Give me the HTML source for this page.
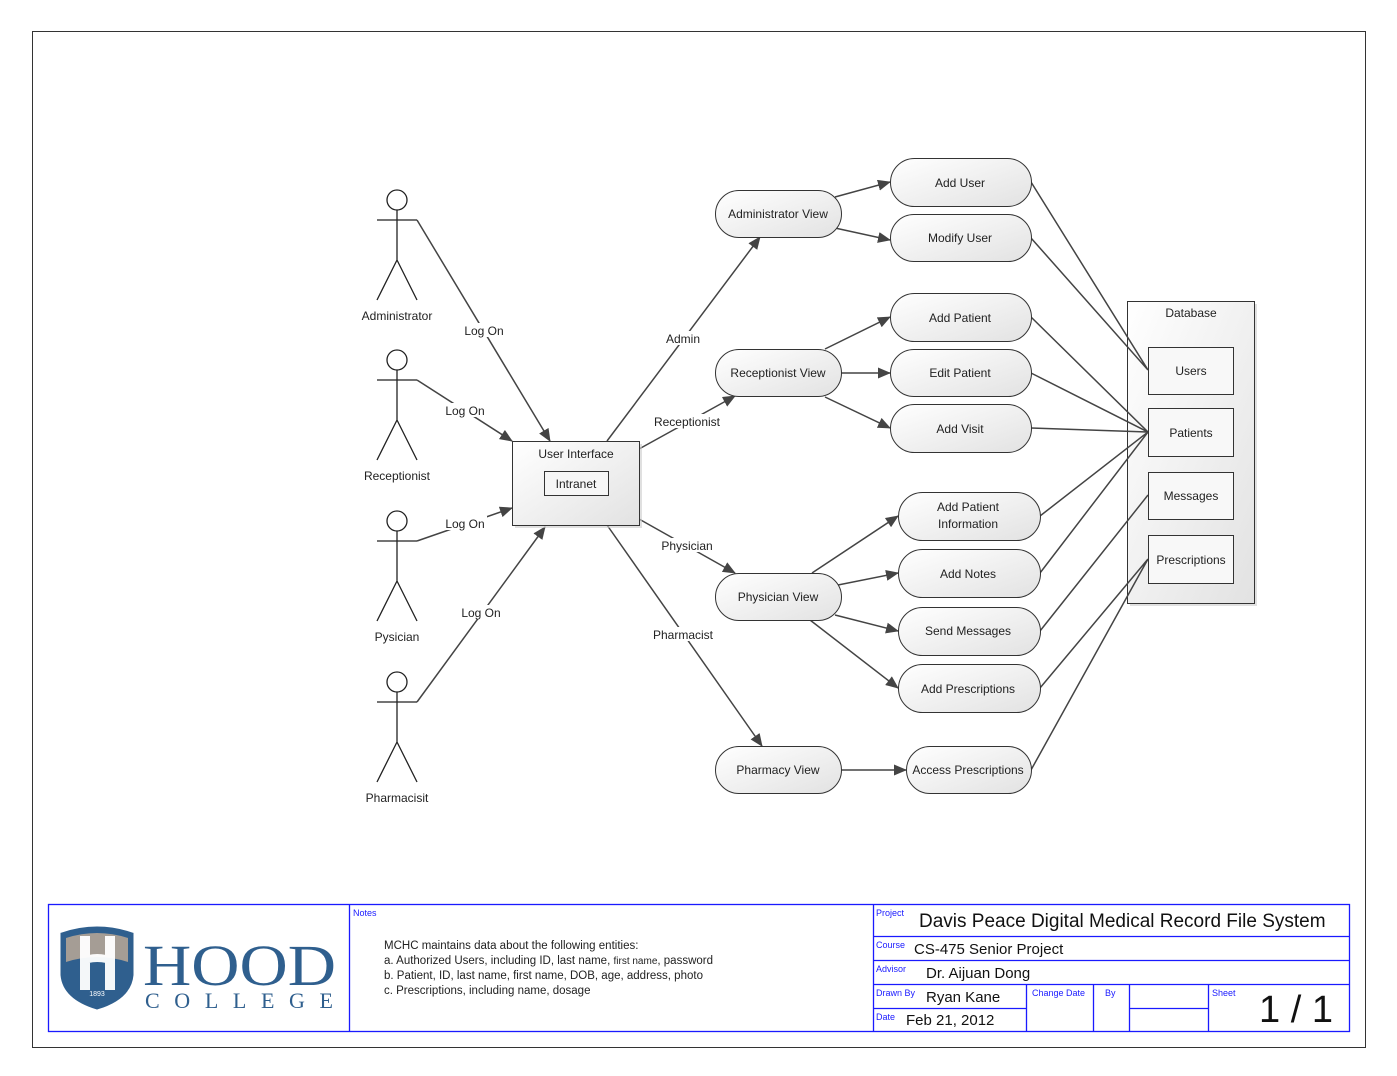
<!DOCTYPE html>
<html><head><meta charset="utf-8"><style>
html,body{margin:0;padding:0;background:#fff}
svg{display:block}
text{font-family:"Liberation Sans",sans-serif;fill:#222}
</style></head><body>
<svg width="1397" height="1076" viewBox="0 0 1397 1076" xmlns="http://www.w3.org/2000/svg">
<defs>
<linearGradient id="g" x1="0" y1="0" x2="1" y2="1"><stop offset="0" stop-color="#ffffff"/><stop offset="1" stop-color="#e2e2e2"/></linearGradient>
<marker id="a" markerWidth="13" markerHeight="11" refX="12" refY="5.5" orient="auto" markerUnits="userSpaceOnUse"><path d="M0,0 L13,5.5 L0,11 Z" fill="#444"/></marker>
</defs>
<rect x="32.5" y="31.5" width="1333" height="1016" fill="none" stroke="#333"/>

<!-- database container (drawn first so lines appear over it) -->
<rect x="1130" y="304" width="127" height="302" fill="#ccc" opacity="0.6"/>
<rect x="1127.5" y="301.5" width="127" height="302" fill="url(#g)" stroke="#333"/>
<text x="1191" y="317" font-size="12" text-anchor="middle">Database</text>

<!-- actors -->
<g stroke="#222" stroke-width="1.3" fill="none">
<g id="act"><circle cx="397" cy="200" r="10" fill="#fff"/><path d="M397,210 V260 M377,220 H417 M397,260 L377,300 M397,260 L417,300"/></g>
<use href="#act" y="160"/><use href="#act" y="321"/><use href="#act" y="482"/>
</g>
<g font-size="12" text-anchor="middle">
<text x="397" y="320">Administrator</text><text x="397" y="480">Receptionist</text><text x="397" y="641">Pysician</text><text x="397" y="802">Pharmacisit</text>
</g>

<!-- connectors -->
<g stroke="#444" stroke-width="1.5" fill="none" marker-end="url(#a)">
<path d="M417,220 L550,441"/><path d="M417,380 L512,441"/><path d="M417,541 L512,508"/><path d="M417,702 L545,527"/>
<path d="M607,441 L760,237"/><path d="M639,449 L735,396"/><path d="M639,519 L735,573"/><path d="M607,525 L762,746"/>
<path d="M835,197 L890,182"/><path d="M835,228 L890,240"/>
<path d="M825,349 L890,317"/><path d="M841,373 L890,373"/><path d="M825,397 L890,428"/>
<path d="M812,573 L898,516"/><path d="M838,585 L898,573"/><path d="M835,615 L898,631"/><path d="M810,620 L898,688"/>
<path d="M841,770 L906,770"/>
</g>
<g stroke="#444" stroke-width="1.5" fill="none">
<path d="M1031,182 L1148,370 M1031,238 L1148,370 M1031,317 L1148,432 M1031,373 L1148,432 M1031,428 L1148,432 M1040,516 L1148,432 M1040,573 L1148,432 M1040,631 L1148,495 M1040,688 L1148,559 M1031,770 L1148,559"/>
</g>
<!-- connector labels -->
<g font-size="12" text-anchor="middle">
<rect x="462" y="323" width="44" height="14" fill="#fff"/><text x="484" y="335">Log On</text>
<rect x="443" y="403" width="44" height="14" fill="#fff"/><text x="465" y="415">Log On</text>
<rect x="443" y="516" width="44" height="14" fill="#fff"/><text x="465" y="528">Log On</text>
<rect x="459" y="605" width="44" height="14" fill="#fff"/><text x="481" y="617">Log On</text>
<rect x="663" y="331" width="40" height="14" fill="#fff"/><text x="683" y="343">Admin</text>
<rect x="650" y="414" width="74" height="14" fill="#fff"/><text x="687" y="426">Receptionist</text>
<rect x="658" y="538" width="58" height="14" fill="#fff"/><text x="687" y="550">Physician</text>
<rect x="650" y="627" width="66" height="14" fill="#fff"/><text x="683" y="639">Pharmacist</text>
</g>

<!-- UI box -->
<rect x="515" y="444" width="127" height="84" fill="#ccc" opacity="0.6"/>
<rect x="512.5" y="441.5" width="127" height="84" fill="url(#g)" stroke="#333"/>
<text x="576" y="458" font-size="12" text-anchor="middle">User Interface</text>
<rect x="544.5" y="471.5" width="64" height="24" fill="#f6f6f6" stroke="#333"/>
<text x="576" y="488" font-size="12" text-anchor="middle">Intranet</text>

<!-- pills -->
<g stroke="#333" stroke-width="1" fill="url(#g)">
<rect x="715.5" y="190.5" width="126" height="47" rx="23.5"/>
<rect x="715.5" y="349.5" width="126" height="47" rx="23.5"/>
<rect x="715.5" y="573.5" width="126" height="47" rx="23.5"/>
<rect x="715.5" y="746.5" width="126" height="47" rx="23.5"/>
<rect x="890.5" y="158.5" width="141" height="48" rx="24"/>
<rect x="890.5" y="214.5" width="141" height="47" rx="23.5"/>
<rect x="890.5" y="293.5" width="141" height="48" rx="24"/>
<rect x="890.5" y="349.5" width="141" height="47" rx="23.5"/>
<rect x="890.5" y="404.5" width="141" height="48" rx="24"/>
<rect x="898.5" y="492.5" width="142" height="48" rx="24"/>
<rect x="898.5" y="549.5" width="142" height="48" rx="24"/>
<rect x="898.5" y="607.5" width="142" height="48" rx="24"/>
<rect x="898.5" y="664.5" width="142" height="48" rx="24"/>
<rect x="906.5" y="746.5" width="125" height="47" rx="23.5"/>
</g>
<g font-size="12" text-anchor="middle">
<text x="778" y="218">Administrator View</text>
<text x="778" y="377">Receptionist View</text>
<text x="778" y="601">Physician View</text>
<text x="778" y="774">Pharmacy View</text>
<text x="960" y="187">Add User</text>
<text x="960" y="242">Modify User</text>
<text x="960" y="322">Add Patient</text>
<text x="960" y="377">Edit Patient</text>
<text x="960" y="433">Add Visit</text>
<text x="968" y="511">Add Patient</text><text x="968" y="528">Information</text>
<text x="968" y="578">Add Notes</text>
<text x="968" y="635">Send Messages</text>
<text x="968" y="693">Add Prescriptions</text>
<text x="968" y="774">Access Prescriptions</text>
</g>

<!-- database inner boxes -->
<g stroke="#333" fill="#f8f8f8">
<rect x="1148.5" y="347.5" width="85" height="47"/>
<rect x="1148.5" y="408.5" width="85" height="48"/>
<rect x="1148.5" y="472.5" width="85" height="47"/>
<rect x="1148.5" y="535.5" width="85" height="48"/>
</g>
<g font-size="12" text-anchor="middle">
<text x="1191" y="375">Users</text><text x="1191" y="437">Patients</text><text x="1191" y="500">Messages</text><text x="1191" y="564">Prescriptions</text>
</g>

<!-- title block -->
<g stroke="#1a1aff" stroke-width="1.3" fill="none">
<rect x="48.5" y="904.5" width="1301" height="127"/>
<path d="M349.5,904 V1031 M873.5,904 V1031 M873,936.5 H1349 M873,960.5 H1349 M873,984.5 H1349 M873,1008.5 H1026 M1026.5,984 V1031 M1093.5,984 V1031 M1129.5,984 V1031 M1129,1008.5 H1208 M1208.5,984 V1031"/>
</g>
<g font-size="9">
<text x="353" y="916" style="fill:#1a1aff">Notes</text>
<text x="876" y="916" style="fill:#1a1aff">Project</text>
<text x="876" y="948" style="fill:#1a1aff">Course</text>
<text x="876" y="972" style="fill:#1a1aff">Advisor</text>
<text x="876" y="996" style="fill:#1a1aff">Drawn By</text>
<text x="876" y="1020" style="fill:#1a1aff">Date</text>
<text x="1032" y="996" style="fill:#1a1aff">Change Date</text>
<text x="1105" y="996" style="fill:#1a1aff">By</text>
<text x="1212" y="996" style="fill:#1a1aff">Sheet</text>
</g>
<text x="919" y="927" font-size="19" style="fill:#111">Davis Peace Digital Medical Record File System</text>
<text x="914" y="954" font-size="15" style="fill:#111">CS-475 Senior Project</text>
<text x="926" y="978" font-size="15" style="fill:#111">Dr. Aijuan Dong</text>
<text x="926" y="1002" font-size="15" style="fill:#111">Ryan Kane</text>
<text x="906" y="1025" font-size="15" style="fill:#111">Feb 21, 2012</text>
<text x="1296" y="1022" font-size="38" text-anchor="middle" style="fill:#111">1 / 1</text>
<g font-size="11.5">
<text x="384" y="949">MCHC maintains data about the following entities:</text>
<text x="384" y="964">a. Authorized Users, including ID, last name, <tspan font-size="10">first name</tspan>, password</text>
<text x="384" y="979">b. Patient, ID, last name, first name, DOB, age, address, photo</text>
<text x="384" y="994">c. Prescriptions, including name, dosage</text>
</g>

<!-- logo -->
<path d="M62,934 Q97,922 132,934 L132,975 Q130,998 97,1008 Q64,998 62,975 Z" fill="#2f5f8e" stroke="#2f5f8e" stroke-width="3"/>
<path d="M66,938 Q97,928 128,938 L128,962 Q97,952 66,962 Z" fill="#a59d95"/>
<path d="M80,936 H90 V990 H80 Z M105,936 H115 V990 H105 Z M80,958 Q97,950 115,958 V966 Q97,958 80,966 Z" fill="#fff" opacity="0.95"/>
<text x="97" y="996" font-size="7" text-anchor="middle" style="fill:#fff">1893</text>
<text x="143" y="985" font-size="58" style="fill:#2f5f8e;font-family:'Liberation Serif',serif" textLength="193" lengthAdjust="spacingAndGlyphs">HOOD</text>
<text x="145" y="1008" font-size="22" style="fill:#2f5f8e;font-family:'Liberation Serif',serif" textLength="188" lengthAdjust="spacing">COLLEGE</text>
</svg>
</body></html>
